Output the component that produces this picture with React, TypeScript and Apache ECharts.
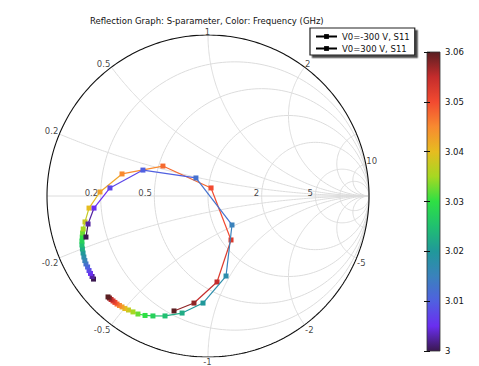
import React, { useEffect, useRef } from 'react';
import * as echarts from 'echarts';

// Frequency (GHz) of each sweep point
const FREQ_GHZ = [3.0000, 3.0025, 3.0050, 3.0075, 3.0100, 3.0125, 3.0150, 3.0175, 3.0200, 3.0225,
  3.0250, 3.0275, 3.0300, 3.0325, 3.0350, 3.0375, 3.0400, 3.0425, 3.0450, 3.0475,
  3.0500, 3.0525, 3.0550, 3.0575, 3.0600];

// S11 (reflection coefficient) real / imaginary parts
const A_RE = [-0.711, -0.720, -0.730, -0.739, -0.748, -0.758, -0.765, -0.771, -0.776, -0.780,
  -0.783, -0.783, -0.781, -0.779, -0.775, -0.764, -0.739, -0.671, -0.534, -0.280,
  0.019, 0.143, 0.056, -0.087, -0.211];
const A_IM = [-0.516, -0.500, -0.481, -0.463, -0.441, -0.422, -0.401, -0.379, -0.354, -0.329,
  -0.304, -0.280, -0.255, -0.230, -0.205, -0.161, -0.075, 0.025, 0.137, 0.186,
  0.050, -0.273, -0.534, -0.665, -0.714];
const B_RE = [-0.758, -0.745, -0.708, -0.609, -0.404, -0.075, 0.149, 0.112, -0.031, -0.161,
  -0.267, -0.342, -0.391, -0.435, -0.466, -0.494, -0.516, -0.534, -0.550, -0.565,
  -0.578, -0.590, -0.602, -0.612, -0.621];
const B_IM = [-0.255, -0.174, -0.075, 0.050, 0.161, 0.112, -0.180, -0.497, -0.665, -0.727,
  -0.745, -0.745, -0.742, -0.733, -0.720, -0.708, -0.699, -0.689, -0.680, -0.671,
  -0.661, -0.652, -0.643, -0.634, -0.627];

const SERIES_NAMES = ['V0=-300 V, S11', 'V0=300 V, S11'];
const TITLE = 'Reflection Graph: S-parameter, Color: Frequency (GHz)';

// Smith chart grid values
const R_GRID = [0.2, 0.5, 1, 2, 5, 10];
const X_GRID = [0.2, 0.5, 1, 2, 5, 10];
const RIM_LABELS = [0.2, 0.5, 1, 2, 10, -0.2, -0.5, -1, -2, -5];
const AXIS_LABELS = [0.2, 0.5, 2, 5];

// colour bar
const CBAR_MIN = 3;
const CBAR_MAX = 3.06;
const CBAR_STEP = 0.01;
const RAINBOW = ['#3a1850', '#6a2ef0', '#5060e0', '#3a82bc', '#20989a', '#20c070', '#2ee044',
  '#a6d822', '#e6bc20', '#f88a30', '#f24a30', '#c42c2c', '#5a1f22'];

const FONT = 'DejaVu Sans';

function gamma(r: number, x: number): [number, number] {
  const den = (r + 1) * (r + 1) + x * x;
  return [(r * r - 1 + x * x) / den, (2 * x) / den];
}

function buildGrid(): any[] {
  const pts: any[] = [];
  const N = 200;
  R_GRID.forEach((r) => {
    const c = r / (r + 1), rad = 1 / (r + 1);
    for (let k = 0; k <= N; k++) {
      const a = (2 * Math.PI * k) / N;
      pts.push([c + rad * Math.cos(a), rad * Math.sin(a)]);
    }
    pts.push([NaN, NaN]);
  });
  X_GRID.forEach((xv) => {
    [xv, -xv].forEach((x) => {
      for (let k = 0; k <= N; k++) {
        if (k === N) { pts.push([1, 0]); continue; }
        const r = Math.tan((Math.PI / 2) * (k / N));
        pts.push(gamma(r, x));
      }
      pts.push([NaN, NaN]);
    });
  });
  pts.push([-1, 0]);
  pts.push([1, 0]);
  return pts;
}

function buildUnit(): any[] {
  const pts: any[] = [];
  for (let k = 0; k <= 360; k++) {
    const a = (2 * Math.PI * k) / 360;
    pts.push([Math.cos(a), Math.sin(a)]);
  }
  return pts;
}

function buildLabels(): any[] {
  const items: any[] = [];
  RIM_LABELS.forEach((x) => {
    const g = gamma(0, x);
    const right = g[0] > 1e-6;
    const center = Math.abs(g[0]) <= 1e-6;
    const upper = x > 0;
    items.push({
      value: g,
      name: String(x),
      label: {
        align: center ? 'center' : right ? 'left' : 'right',
        verticalAlign: upper ? 'bottom' : 'top',
        offset: [center ? 0 : right ? 1 : -0.5, upper ? 1.5 : 1],
      },
    });
  });
  AXIS_LABELS.forEach((r) => {
    items.push({
      value: [(r - 1) / (r + 1), 0],
      name: String(r),
      label: { align: 'right', verticalAlign: 'bottom', offset: [-2, 1.5] },
    });
  });
  return items;
}

function buildTrace(re: number[], im: number[]): any[] {
  return re.map((v, i) => {
    const j = Math.min(i + 1, re.length - 1);
    return [v, im[i], FREQ_GHZ[i], re[j], im[j]];
  });
}

const renderTrace = (params: any, api: any) => {
  const p = api.coord([api.value(0), api.value(1)]);
  const q = api.coord([api.value(3), api.value(4)]);
  const color = api.visual('color');
  return {
    type: 'group',
    children: [
      { type: 'line', shape: { x1: p[0], y1: p[1], x2: q[0], y2: q[1] }, style: { stroke: color, lineWidth: 1.2 } },
      { type: 'rect', shape: { x: p[0] - 2.5, y: p[1] - 2.5, width: 5, height: 5 }, style: { fill: color } },
    ],
  };
};

export default function App() {
  const ref = useRef<HTMLDivElement>(null);
  useEffect(() => {
    document.body.style.margin = '0';
    if (!ref.current) return;
    const chart = echarts.init(ref.current, null, { renderer: 'svg' });
    const n = RAINBOW.length;
    const stops = RAINBOW.map((c, i) => ({ offset: 1 - i / (n - 1), color: c })).reverse();
    const option: any = {
      animation: false,
      textStyle: { fontFamily: FONT },
      title: {
        text: TITLE, left: 90, top: 16, padding: 0,
        textStyle: { fontSize: 8.5, fontWeight: 'normal', color: '#111', fontFamily: FONT },
      },
      legend: {
        data: SERIES_NAMES.map((s) => ({ name: s, itemStyle: { color: '#000' }, lineStyle: { color: '#000' } })),
        left: 310, top: 28, orient: 'vertical', padding: [4, 5, 2, 5], itemGap: 3,
        itemWidth: 21, itemHeight: 6, backgroundColor: '#fff', borderColor: '#222', borderWidth: 1.2,
        shadowColor: 'rgba(0,0,0,0.7)', shadowOffsetX: 2.5, shadowOffsetY: 2.5, shadowBlur: 0,
        textStyle: { fontSize: 8.5, color: '#111', fontFamily: FONT },
        selectedMode: false,
      },
      grid: [
        { left: 47, top: 35, width: 322, height: 322 },
        {
          left: 427, top: 52, width: 13, height: 299, show: true,
          backgroundColor: new echarts.graphic.LinearGradient(0, 0, 0, 1, stops),
          borderColor: '#333', borderWidth: 0.8,
        },
      ],
      xAxis: [
        { type: 'value', min: -1, max: 1, show: false, gridIndex: 0 },
        { type: 'value', min: 0, max: 1, show: false, gridIndex: 1 },
      ],
      yAxis: [
        { type: 'value', min: -1, max: 1, show: false, gridIndex: 0 },
        {
          type: 'value', gridIndex: 1, position: 'right', min: CBAR_MIN, max: CBAR_MAX, interval: CBAR_STEP, z: 20,
          axisLine: { show: false }, splitLine: { show: false },
          axisTick: { show: true, inside: true, length: 3, lineStyle: { color: '#111', width: 1 } },
          axisLabel: { fontSize: 8.5, color: '#111', margin: 5, fontFamily: FONT, formatter: (v: number) => String(+v.toFixed(2)) },
        },
        {
          type: 'value', gridIndex: 1, position: 'left', min: CBAR_MIN, max: CBAR_MAX, interval: CBAR_STEP, z: 20,
          axisLine: { show: false }, splitLine: { show: false }, axisLabel: { show: false },
          axisTick: { show: true, inside: true, length: 3, lineStyle: { color: '#111', width: 1 } },
        },
      ],
      visualMap: {
        type: 'continuous', show: false, min: CBAR_MIN, max: CBAR_MAX, dimension: 2, seriesIndex: [3, 4],
        inRange: { color: RAINBOW },
      },
      series: [
        {
          type: 'line', data: buildGrid(), symbol: 'none', silent: true, connectNulls: false,
          lineStyle: { color: '#dcdcdc', width: 1 }, z: 1,
        },
        {
          type: 'line', data: buildUnit(), symbol: 'none', silent: true,
          lineStyle: { color: '#111', width: 1.1 }, z: 2,
        },
        {
          type: 'scatter', data: buildLabels(), symbolSize: 1, silent: true, z: 3,
          itemStyle: { color: 'rgba(0,0,0,0)' },
          label: { show: true, position: [0, 0], formatter: '{b}', fontSize: 8.5, color: '#111', fontFamily: FONT },
        },
        {
          type: 'custom', name: 'traceA', data: buildTrace(A_RE, A_IM), renderItem: renderTrace, z: 5,
          dimensions: ['re', 'im', 'freq', 'nre', 'nim'], encode: { x: 0, y: 1 }, clip: false,
        },
        {
          type: 'custom', name: 'traceB', data: buildTrace(B_RE, B_IM), renderItem: renderTrace, z: 5,
          dimensions: ['re', 'im', 'freq', 'nre', 'nim'], encode: { x: 0, y: 1 }, clip: false,
        },
        ...SERIES_NAMES.map((s) => ({
          type: 'line', name: s, data: [], symbol: 'rect', symbolSize: 4,
          itemStyle: { color: '#000' }, lineStyle: { color: '#000', width: 1.2 },
        })),
      ],
    };
    chart.setOption(option);
    return () => chart.dispose();
  }, []);
  return <div ref={ref} style={{ width: 479, height: 366 }} />;
}
